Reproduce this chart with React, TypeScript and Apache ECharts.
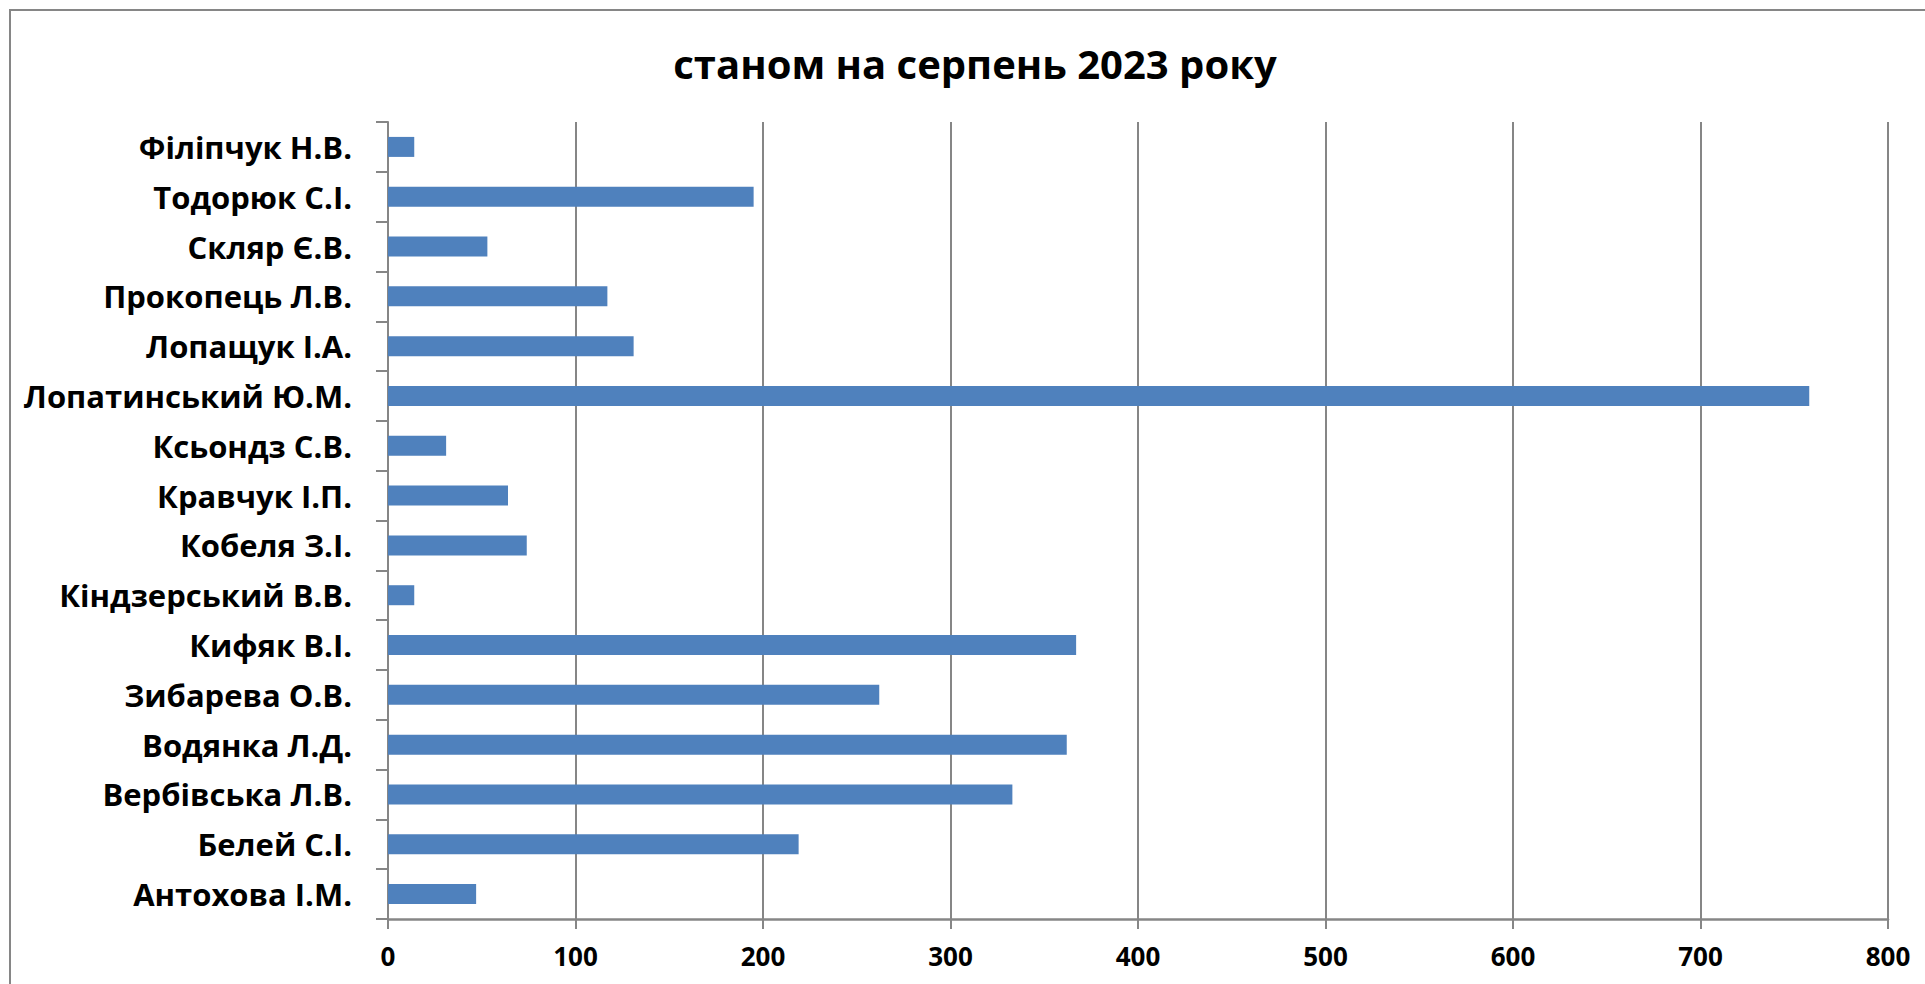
import React, { useEffect, useRef } from "react";
import * as echarts from "echarts";

const categories: string[] = [
  "Антохова І.М.",
  "Белей С.І.",
  "Вербівська Л.В.",
  "Водянка Л.Д.",
  "Зибарева О.В.",
  "Кифяк В.І.",
  "Кіндзерський В.В.",
  "Кобеля З.І.",
  "Кравчук І.П.",
  "Ксьондз С.В.",
  "Лопатинський Ю.М.",
  "Лопащук І.А.",
  "Прокопець Л.В.",
  "Скляр Є.В.",
  "Тодорюк С.І.",
  "Філіпчук Н.В.",
];

const values: number[] = [47, 219, 333, 362, 262, 367, 14, 74, 64, 31, 758, 131, 117, 53, 195, 14];

const titleText = "станом на серпень 2023 року";
const xMin = 0;
const xMax = 800;
const xInterval = 100;

const GRAY = "#868686";
const FONT = "'Open Sans', 'Noto Sans', sans-serif";

export default function App() {
  const ref = useRef<HTMLDivElement>(null);

  useEffect(() => {
    document.body.style.margin = "0";
    if (!ref.current) return;
    const chart = echarts.init(ref.current, undefined, { renderer: "svg" });
    chart.setOption({
      animation: false,
      backgroundColor: "#ffffff",
      graphic: [
        {
          type: "rect",
          shape: { x: 10, y: 10, width: 2000, height: 2000 },
          style: { fill: "none", stroke: GRAY, lineWidth: 2 },
          silent: true,
        },
        {
          type: "text",
          x: 975,
          y: 63,
          style: {
            text: titleText,
            fontFamily: FONT,
            fontWeight: "bold",
            fontSize: 40,
            fill: "#000",
            textAlign: "center",
            textVerticalAlign: "middle",
          },
        },
      ],
      grid: { left: 388, right: 37, top: 122, bottom: 65, containLabel: false },
      xAxis: {
        type: "value",
        min: xMin,
        max: xMax,
        interval: xInterval,
        axisLine: { show: true, lineStyle: { color: GRAY, width: 2.5 } },
        axisTick: { show: true, length: 10, lineStyle: { color: GRAY, width: 2 } },
        splitLine: { show: true, lineStyle: { color: GRAY, width: 2 } },
        axisLabel: {
          margin: 24,
          fontFamily: FONT,
          fontWeight: "bold",
          fontSize: 26,
          color: "#000",
        },
      },
      yAxis: {
        type: "category",
        data: categories,
        axisLine: { show: true, lineStyle: { color: GRAY, width: 2 } },
        axisTick: { show: true, length: 12, lineStyle: { color: GRAY, width: 2 } },
        splitLine: { show: false },
        axisLabel: {
          margin: 36,
          fontFamily: FONT,
          fontWeight: "bold",
          fontSize: 31,
          color: "#000",
        },
      },
      series: [
        {
          type: "bar",
          data: values,
          barWidth: 20,
          itemStyle: { color: "#4F81BD" },
        },
      ],
    });
    return () => chart.dispose();
  }, []);

  return <div ref={ref} style={{ width: 1925, height: 984 }} />;
}
